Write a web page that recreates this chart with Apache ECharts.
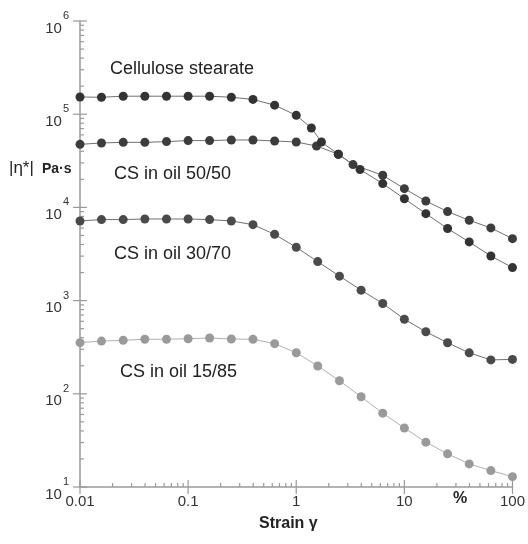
<!DOCTYPE html>
<html>
<head>
<meta charset="utf-8">
<script src="https://cdn.jsdelivr.net/npm/echarts@6/dist/echarts.min.js"></script>
<style>
  html, body { margin: 0; padding: 0; background: #fff; }
  #chart { width: 528px; height: 544px; }
</style>
</head>
<body>
<div id="chart"></div>
<script>
// strain grid (%), 5 points per decade
const strainGrid = [0.01, 0.0158, 0.0251, 0.0398, 0.0631, 0.1, 0.158, 0.251, 0.398, 0.631,
    1, 1.58, 2.51, 3.98, 6.31, 10, 15.8, 25.1, 39.8, 63.1, 100];

// cellulose stearate, points off the grid in the transition
const csStrain = [0.01, 0.0158, 0.0251, 0.0398, 0.0631, 0.1, 0.158, 0.251, 0.398, 0.631,
    1, 1.38, 1.71, 2.45, 3.89, 6.31, 10, 15.8, 25.1, 39.8, 63.1, 100];
const csEta = [153000, 152000, 156000, 156000, 156000, 156000, 156000, 152000, 144000, 125000,
    97300, 71100, 50300, 37200, 25500, 18000, 12400, 8570, 5930, 4260, 3010, 2260];

const cs50Strain = [0.01, 0.0158, 0.0251, 0.0398, 0.0631, 0.1, 0.158, 0.251, 0.398, 0.631,
    1, 1.54, 2.45, 3.35, 6.31, 10, 15.8, 25.1, 39.8, 63.1, 100];
const cs50Eta = [47500, 49100, 49900, 49900, 50800, 52100, 52100, 52900, 52900, 51600,
    50300, 45600, 37200, 28800, 22100, 15900, 11700, 9020, 7270, 6020, 4620];

const cs30Eta = [7150, 7400, 7400, 7510, 7510, 7510, 7400, 7150, 6530, 5140,
    3730, 2620, 1830, 1295, 931, 631, 463, 353, 275, 231, 234];

const cs15Eta = [354, 368, 375, 385, 385, 390, 397, 387, 385, 345,
    276, 199, 138, 93, 62, 43, 30.3, 22.7, 17.7, 15.0, 12.9];

const xMin = 0.01, xMax = 100;
const yMin = 10, yMax = 1e6;
const xMajor = [0.01, 0.1, 1, 10, 100];
const yMajor = [10, 100, 1000, 10000, 100000, 1000000];

// 2..9 minor ticks of each decade
function minorTicks(majors) {
    const out = [];
    for (let i = 0; i < majors.length - 1; i++) {
        for (let m = 2; m <= 9; m++) out.push(majors[i] * m);
    }
    return out;
}
const xMinor = minorTicks(xMajor);
const yMinor = minorTicks(yMajor);

const FONT = "Liberation Sans";
const AXIS_COLOR = "#9a9a9a";

function pairs(xs, ys) {
    return xs.map((x, i) => [x, ys[i]]);
}

function curve(name, xs, ys, dot, line) {
    return {
        name: name,
        type: "line",
        data: pairs(xs, ys),
        symbol: "circle",
        symbolSize: 9,
        itemStyle: { color: dot, borderWidth: 0 },
        lineStyle: { color: line, width: 1 },
        emphasis: { disabled: true },
        z: 3
    };
}

function tickSeries(data, render) {
    return {
        type: "custom",
        silent: true,
        clip: false,
        data: data,
        renderItem: render,
        z: 2
    };
}

const tickStyle = { stroke: AXIS_COLOR, lineWidth: 1.2 };

function xTick(inner, outer) {
    return function (params, api) {
        const p = api.coord([api.value(0), yMin]);
        return { type: "line", shape: { x1: p[0], y1: p[1] - inner, x2: p[0], y2: p[1] + outer }, style: tickStyle };
    };
}
function yTick(inner, outer) {
    return function (params, api) {
        const p = api.coord([xMin, api.value(1)]);
        return { type: "line", shape: { x1: p[0] - outer, y1: p[1], x2: p[0] + inner, y2: p[1] }, style: tickStyle };
    };
}

const chart = echarts.init(document.getElementById("chart"));

chart.setOption({
    backgroundColor: "#fff",
    animation: false,
    grid: { left: 80, right: 14, top: 21, bottom: 57, containLabel: false },
    xAxis: {
        type: "log",
        logBase: 10,
        min: xMin,
        max: xMax,
        splitNumber: 4,
        axisLine: { lineStyle: { color: AXIS_COLOR, width: 1.5 } },
        axisTick: { show: false },
        splitLine: { show: false },
        axisLabel: {
            margin: 7,
            fontFamily: FONT,
            fontSize: 15,
            color: "#333",
            formatter: v => String(v)
        }
    },
    yAxis: {
        type: "log",
        logBase: 10,
        min: yMin,
        max: yMax,
        splitNumber: 5,
        axisLine: { lineStyle: { color: AXIS_COLOR, width: 1.5 } },
        axisTick: { show: false },
        splitLine: { show: false },
        axisLabel: {
            margin: 11,
            fontFamily: FONT,
            color: "#333",
            formatter: v => "{b|10}{s|" + Math.round(Math.log10(v)) + "}",
            rich: {
                b: { fontFamily: FONT, fontSize: 15, color: "#333", padding: [15, 0, 0, 0] },
                s: { fontFamily: FONT, fontSize: 11, color: "#333", padding: [0, 0, 10, 1] }
            }
        }
    },
    graphic: [
        { type: "text", left: 110, top: 60, style: { text: "Cellulose stearate", font: "18px " + FONT, fill: "#222" } },
        { type: "text", left: 114, top: 165, style: { text: "CS in oil 50/50", font: "18px " + FONT, fill: "#222" } },
        { type: "text", left: 114, top: 245, style: { text: "CS in oil 30/70", font: "18px " + FONT, fill: "#222" } },
        { type: "text", left: 120, top: 363, style: { text: "CS in oil 15/85", font: "18px " + FONT, fill: "#222" } },
        {
            type: "text", left: 9, top: 160,
            style: {
                text: "{a||η*|}{b|Pa·s}",
                rich: {
                    a: { font: "17px " + FONT, fill: "#222" },
                    b: { font: "bold 14px " + FONT, fill: "#222", padding: [2, 0, 0, 8] }
                }
            }
        },
        { type: "text", left: 453, top: 491, style: { text: "%", font: "bold 16px " + FONT, fill: "#222" } },
        { type: "text", left: 259, top: 516, style: { text: "Strain γ", font: "bold 16px " + FONT, fill: "#222" } }
    ],
    series: [
        tickSeries(xMajor.map(v => [v, yMin]), xTick(7, 7)),
        tickSeries(xMinor.map(v => [v, yMin]), xTick(4, 0)),
        tickSeries(yMajor.map(v => [xMin, v]), yTick(7, 7)),
        tickSeries(yMinor.map(v => [xMin, v]), yTick(4, 0)),
        curve("CS in oil 15/85", strainGrid, cs15Eta, "#9a9a9a", "#b0b0b0"),
        curve("CS in oil 30/70", strainGrid, cs30Eta, "#4a4a4a", "#707070"),
        curve("CS in oil 50/50", cs50Strain, cs50Eta, "#3c3c3c", "#707070"),
        curve("Cellulose stearate", csStrain, csEta, "#333333", "#707070")
    ]
});
</script>
</body>
</html>
